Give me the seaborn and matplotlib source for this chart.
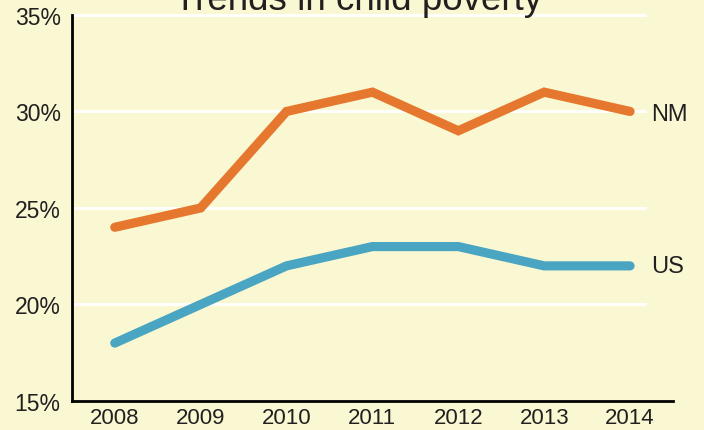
import matplotlib
matplotlib.use("Agg")
import matplotlib.pyplot as plt
import seaborn as sns
import pandas as pd

years = [2008, 2009, 2010, 2011, 2012, 2013, 2014]
nm_values = [24, 25, 30, 31, 29, 31, 30]
us_values = [18, 20, 22, 23, 23, 22, 22]
series_names = ["NM", "US"]
y_ticks = [15, 20, 25, 30, 35]
y_tick_labels = ["15%", "20%", "25%", "30%", "35%"]
title = "Trends in child poverty"

df = pd.DataFrame({
    "year": years * 2,
    "value": nm_values + us_values,
    "series": ["NM"] * len(years) + ["US"] * len(years),
})

bg = "#FAF8D2"
palette = {"NM": "#E5772E", "US": "#4AA5C2"}
text_color = "#231F20"

sns.set_theme(style="white")
plt.rcParams["font.family"] = ["Liberation Sans", "DejaVu Sans"]

fig = plt.figure(figsize=(7.04, 4.31), dpi=100, facecolor=bg)
ax = fig.add_axes([0.102, 0.0673, 0.854, 0.8957])
ax.set_facecolor(bg)

ax.set_xlim(2007.5, 2014.5)
ax.set_ylim(15, 35)

for yv in y_ticks[1:]:
    ax.plot([2007.5, 2014.19], [yv, yv], color="white", lw=2.0, zorder=1,
            solid_capstyle="butt", clip_on=False)

sns.lineplot(data=df, x="year", y="value", hue="series", palette=palette,
             linewidth=6.6, legend=False, ax=ax, zorder=3)
for line in ax.get_lines()[-2:]:
    line.set_solid_capstyle("round")
    line.set_solid_joinstyle("miter")

ax.text(2014.24, nm_values[-1] - 0.15, "NM", fontsize=17, color=text_color,
        va="center", ha="left")
ax.text(2014.24, us_values[-1], "US", fontsize=17, color=text_color,
        va="center", ha="left")

ax.set_xticks(years)
ax.set_xticklabels([str(y) for y in years], fontsize=16, color=text_color)
ax.set_yticks(y_ticks)
ax.set_yticklabels(y_tick_labels, fontsize=16.5, color=text_color)
ax.tick_params(axis="x", direction="in", length=8, width=1.6, color="black", pad=4)
ax.tick_params(axis="y", length=0, pad=8)
ax.set_xlabel("")
ax.set_ylabel("")

for s in ["top", "right"]:
    ax.spines[s].set_visible(False)
for s in ["left", "bottom"]:
    ax.spines[s].set_color("black")
    ax.spines[s].set_linewidth(2)
    ax.spines[s].set_zorder(4)

fig.text(358 / 704, 1 - 10 / 431, title, fontsize=26.5, color=text_color,
         ha="center", va="baseline")

fig.savefig("out.png", dpi=100, facecolor=bg)
